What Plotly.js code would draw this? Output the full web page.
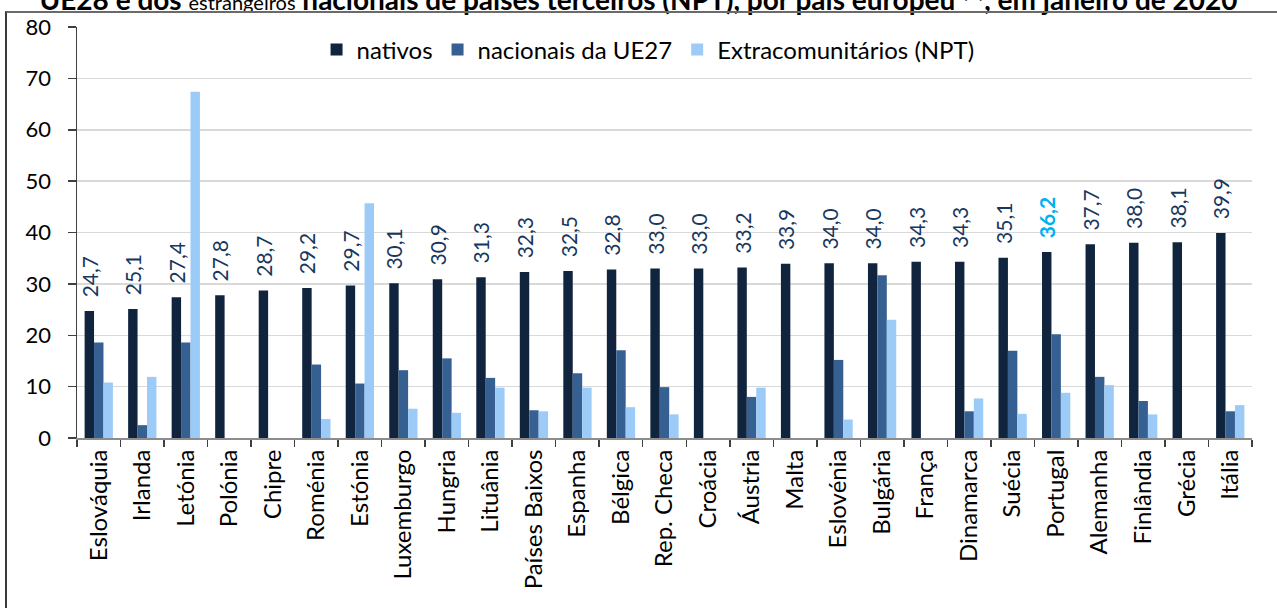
<!DOCTYPE html>
<html>
<head>
<meta charset="utf-8">
<script src="https://cdn.plot.ly/plotly-3.0.1.min.js"></script>
<style>
  html, body { margin: 0; padding: 0; background: #fff; }
  #wrap { position: relative; width: 1277px; height: 608px; overflow: hidden; }
  #chart { position: absolute; left: 0; top: 0; width: 1277px; height: 608px; }
  #frame { position: absolute; left: 5px; top: 11px; width: 1300px; height: 700px;
           border-left: 2px solid #3a3a3a; border-top: 2px solid #6a6a6a; pointer-events: none; }
</style>
</head>
<body>
<div id="wrap">
  <div id="chart"></div>
  <div id="frame"></div>
</div>
<script>
const paises = ["Eslováquia","Irlanda","Letónia","Polónia","Chipre","Roménia","Estónia","Luxemburgo","Hungria","Lituânia","Países Baixos","Espanha","Bélgica","Rep. Checa","Croácia","Áustria","Malta","Eslovénia","Bulgária","França","Dinamarca","Suécia","Portugal","Alemanha","Finlândia","Grécia","Itália"];
const nativos = [24.7,25.1,27.4,27.8,28.7,29.2,29.7,30.1,30.9,31.3,32.3,32.5,32.8,33.0,33.0,33.2,33.9,34.0,34.0,34.3,34.3,35.1,36.2,37.7,38.0,38.1,39.9];
const nacionaisUE27 = [18.6,2.5,18.6,null,null,14.3,10.6,13.2,15.5,11.7,5.4,12.6,17.1,9.9,null,8.0,null,15.2,31.7,null,5.2,17.0,20.2,11.9,7.2,null,5.2];
const extracomunitarios = [10.8,11.9,67.4,null,null,3.7,45.7,5.7,4.9,9.8,5.2,9.8,6.0,4.6,null,9.8,null,3.6,23.0,null,7.7,4.7,8.8,10.3,4.6,null,6.4];
const destaque = "Portugal";

const FONT = "Lato, 'Open Sans', sans-serif";
const PAD = "\u00A0\u00A0";
const fmt = v => v.toFixed(1).replace(".", ",");
const labelText = paises.map((p, i) => p === destaque ? PAD + "<b>" + fmt(nativos[i]) + "</b>" : PAD + fmt(nativos[i]));
const labelColor = paises.map(p => p === destaque ? "#00B0F0" : "#17375E");

const traces = [
  { type: "bar", name: "nativos", x: paises, y: nativos,
    marker: { color: "#10243E" },
    text: labelText, textposition: "outside", textangle: -90,
    textfont: { family: FONT, size: 21, color: labelColor },
    constraintext: "none", cliponaxis: false, hoverinfo: "x+y" },
  { type: "bar", name: "nacionais da UE27", x: paises, y: nacionaisUE27,
    marker: { color: "#376092" }, hoverinfo: "x+y" },
  { type: "bar", name: "Extracomunitários (NPT)", x: paises, y: extracomunitarios,
    marker: { color: "#9DCBF8" }, hoverinfo: "x+y" }
];

const layout = {
  width: 1277, height: 608,
  margin: { l: 77, r: 25, t: 27, b: 170, pad: 0 },
  paper_bgcolor: "#ffffff", plot_bgcolor: "#ffffff",
  font: { family: FONT, size: 22, color: "#000" },
  barmode: "group", bargap: 0.35, bargroupgap: 0,
  title: {
    text: "UE28 e dos <span style='font-size:20px;font-weight:normal'>estrangeiros</span> nacionais de países terceiros (NPT), por país europeu <sup>(1)</sup>, em janeiro de 2020",
    font: { family: FONT, size: 28, color: "#000", weight: 700 },
    x: 0.5, xanchor: "center", xref: "container",
    y: 1, yanchor: "middle", yref: "container"
  },
  xaxis: {
    type: "category", tickangle: -90,
    showline: true, linecolor: "#8c8c8c", linewidth: 2,
    ticks: "outside", tickson: "boundaries", ticklen: 7, tickcolor: "#404040", tickwidth: 1.5,
    tickfont: { family: FONT, size: 24, color: "#000" },
    showgrid: false, zeroline: false
  },
  yaxis: {
    range: [0, 80], dtick: 10, tick0: 0,
    showline: true, linecolor: "#404040", linewidth: 1.5,
    ticks: "outside", ticklen: 8, tickcolor: "#404040", tickwidth: 1.5,
    ticklabelstandoff: 12,
    tickfont: { family: FONT, size: 22, color: "#000" },
    showgrid: true, gridcolor: "#d9d9d9", gridwidth: 1.5,
    zeroline: false
  },
  legend: {
    orientation: "h", x: 0.486, xanchor: "center", y: 0.944, yanchor: "middle",
    font: { family: FONT, size: 24, color: "#000" },
    bgcolor: "rgba(0,0,0,0)", traceorder: "normal"
  },
  showlegend: true
};

Plotly.newPlot("chart", traces, layout, { displayModeBar: false, staticPlot: true });
</script>
</body>
</html>
